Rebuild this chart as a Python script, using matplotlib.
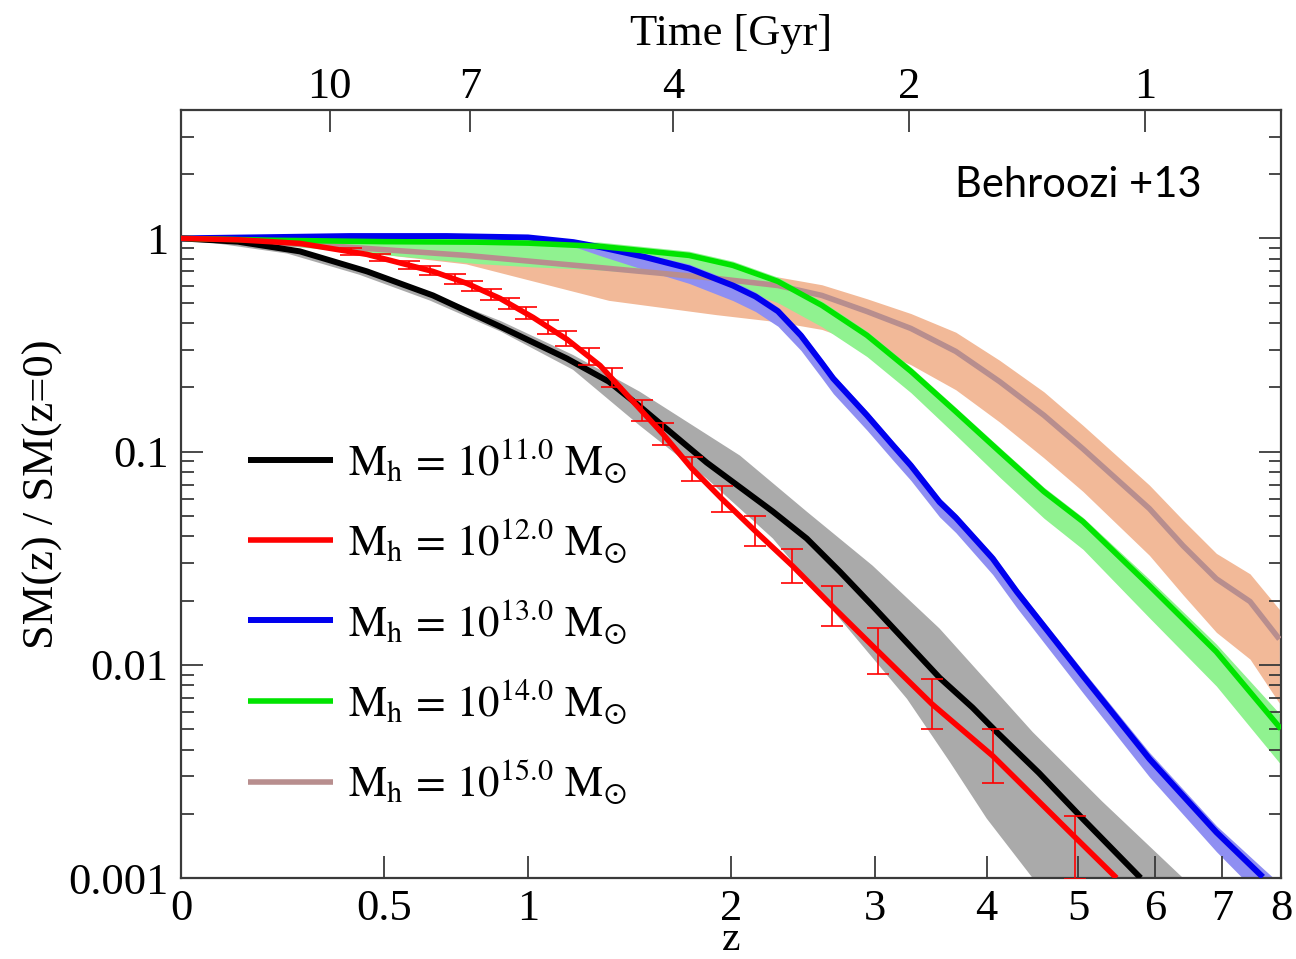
import numpy as np
import matplotlib
matplotlib.use('Agg')
import matplotlib.pyplot as plt
from matplotlib.ticker import FixedLocator, NullLocator, LogLocator, NullFormatter, FixedFormatter

# ---------------- data ----------------
z_ticks = [0, 0.5, 1, 2, 3, 4, 5, 6, 7, 8]
z_tick_labels = ['0', '0.5', '1', '2', '3', '4', '5', '6', '7', '8']
y_ticks = [0.001, 0.01, 0.1, 1]
y_tick_labels = ['0.001', '0.01', '0.1', '1']
time_tick_z = [0.346, 0.781, 1.672, 3.28, 5.86]
time_tick_labels = ['10', '7', '4', '2', '1']

labels = [r'$\mathrm{M_h\,=\,10^{11.0}\ M_{\odot}}$',
          r'$\mathrm{M_h\,=\,10^{12.0}\ M_{\odot}}$',
          r'$\mathrm{M_h\,=\,10^{13.0}\ M_{\odot}}$',
          r'$\mathrm{M_h\,=\,10^{14.0}\ M_{\odot}}$',
          r'$\mathrm{M_h\,=\,10^{15.0}\ M_{\odot}}$']

# Mh = 1e11 (black) + grey band (upper / lower edges)
black_z = [0, 0.12, 0.268, 0.450, 0.654, 0.891, 1.162, 1.35, 1.50, 1.858, 2.262, 2.49, 2.73,
           2.98, 3.264, 3.55, 3.86, 4.10, 4.55, 5.06, 5.80]
black_v = [1, 0.965, 0.869, 0.70, 0.54, 0.386, 0.273, 0.213, 0.163, 0.0888, 0.0523, 0.0391,
           0.0273, 0.0189, 0.01268, 0.0087, 0.0063, 0.00484, 0.00311, 0.00189, 0.001]
gray_up_z = [0, 0.236, 0.427, 0.644, 0.895, 1.188, 1.50, 2.054, 2.49, 2.98, 3.55, 4.48, 5.3, 6.4, 6.8]
gray_up_v = [1, 0.889, 0.716, 0.554, 0.409, 0.284, 0.191, 0.0958, 0.0523, 0.0292, 0.0148,
             0.00484, 0.00228, 0.001, 0.0007]
gray_dn_z = [0, 0.236, 0.427, 0.644, 0.895, 1.188, 1.50, 1.858, 2.262, 2.73, 3.264, 3.645,
             4.0, 4.48, 4.9]
gray_dn_v = [1, 0.849, 0.676, 0.511, 0.365, 0.242, 0.1324, 0.0747, 0.0391, 0.0164, 0.00692,
             0.0035, 0.0019, 0.001, 0.0005]

# Mh = 1e12 (red) with error bars
red_z = [0, 0.12, 0.268, 0.450, 0.654, 0.770, 0.891, 1.020, 1.162, 1.31, 1.466, 1.618, 1.775,
         1.945, 2.146, 2.39, 2.67, 3.02, 3.48, 4.06, 4.96, 5.48]
red_v = [1, 0.985, 0.947, 0.841, 0.700, 0.615, 0.523, 0.426, 0.336, 0.253, 0.172, 0.121,
         0.0832, 0.0601, 0.0426, 0.0292, 0.0189, 0.01164, 0.00656, 0.00374, 0.00156, 0.001]
err_z = [0.404, 0.488, 0.577, 0.644, 0.729, 0.79, 0.857, 0.925, 0.99, 1.08, 1.157, 1.26,
         1.365, 1.51, 1.618, 1.775, 1.945, 2.146, 2.39, 2.67, 3.02, 3.48, 4.06, 4.96]
err_v = [0.867, 0.813, 0.750, 0.706, 0.644, 0.599, 0.547, 0.495, 0.447, 0.385, 0.339, 0.278,
         0.222, 0.156, 0.121, 0.0832, 0.0601, 0.0426, 0.0292, 0.0189, 0.01164, 0.00656,
         0.00374, 0.00156]
err_up_dex = [0.016, 0.018, 0.019, 0.02, 0.022, 0.024, 0.026, 0.028, 0.03, 0.033, 0.036, 0.04,
              0.045, 0.05, 0.052, 0.056, 0.061, 0.07, 0.08, 0.094, 0.108, 0.117, 0.127, 0.10]
err_dn_dex = [0.016, 0.018, 0.019, 0.02, 0.022, 0.024, 0.026, 0.028, 0.03, 0.033, 0.036, 0.04,
              0.045, 0.05, 0.052, 0.056, 0.061, 0.07, 0.08, 0.094, 0.108, 0.117, 0.127, 0.20]

# Mh = 1e13 (blue) + band
blue_z = [0, 0.15, 0.4, 0.7, 1.0, 1.19, 1.31, 1.52, 1.759, 2.011, 2.15, 2.295, 2.45, 2.597,
          2.68, 2.936, 3.146, 3.297, 3.55, 3.70, 4.06, 4.31, 5.06, 5.92, 6.91, 7.68]
blue_v = [1.0, 1.01, 1.025, 1.025, 1.01, 0.96, 0.91, 0.82, 0.723, 0.601, 0.534, 0.455, 0.35,
          0.26, 0.22, 0.148, 0.107, 0.086, 0.058, 0.049, 0.0315, 0.022, 0.00887, 0.00362,
          0.00164, 0.00101]
bband_z = [0, 0.4, 1.0, 1.19, 1.31, 1.52, 1.759, 2.011, 2.15, 2.295, 2.45, 2.597, 2.68, 2.936,
           3.146, 3.297, 3.55, 3.70, 4.06, 4.31, 5.06, 5.92, 6.91, 7.68, 8.0]
bband_lo = [1, 1.013, 0.987, 0.917, 0.830, 0.714, 0.615, 0.511, 0.454, 0.387, 0.298, 0.221,
            0.187, 0.126, 0.0911, 0.0732, 0.0494, 0.0417, 0.0265, 0.0185, 0.00738, 0.00298,
            0.00133, 0.00080, 0.0005]
bband_hi = [1, 1.037, 1.029, 0.982, 0.931, 0.849, 0.757, 0.629, 0.559, 0.476, 0.366, 0.272,
            0.230, 0.155, 0.112, 0.090, 0.0607, 0.0513, 0.033, 0.0230, 0.00939, 0.00388,
            0.00176, 0.00111, 0.00093]

# Mh = 1e14 (green) + band
green_z = [0, 0.2, 0.5, 0.8, 1.0, 1.31, 1.759, 2.011, 2.295, 2.597, 2.936, 3.297, 3.70, 4.13,
           4.605, 5.06, 5.92, 6.91, 8.0]
green_v = [1, 0.98, 0.965, 0.96, 0.95, 0.917, 0.832, 0.747, 0.628, 0.485, 0.351, 0.238, 0.154,
           0.100, 0.0649, 0.0469, 0.0235, 0.0115, 0.0050]
green_lo = [1, 0.936, 0.840, 0.763, 0.737, 0.712, 0.661, 0.593, 0.499, 0.385, 0.279, 0.189,
            0.1196, 0.0759, 0.0487, 0.0348, 0.0166, 0.00795, 0.0034]
green_hi = [1, 0.99, 0.984, 0.982, 0.983, 0.960, 0.871, 0.782, 0.657, 0.508, 0.367, 0.249,
            0.161, 0.1047, 0.068, 0.0491, 0.0252, 0.0125, 0.0058]

# Mh = 1e15 (rosy brown) + salmon band
brown_z = [0, 0.328, 0.767, 1.35, 1.91, 2.295, 2.597, 2.936, 3.297, 3.70, 4.13, 4.605, 5.06,
           5.92, 6.40, 6.91, 7.46, 7.97]
brown_v = [1, 0.927, 0.832, 0.723, 0.649, 0.601, 0.540, 0.454, 0.378, 0.295, 0.213, 0.148,
           0.103, 0.054, 0.0362, 0.0253, 0.0198, 0.0132]
salmon_lo = [1, 0.906, 0.759, 0.512, 0.439, 0.406, 0.374, 0.314, 0.2555, 0.195, 0.1376, 0.0934,
             0.065, 0.0326, 0.0213, 0.0142, 0.01063, 0.00661]
salmon_hi = [1, 0.948, 0.861, 0.757, 0.696, 0.659, 0.606, 0.521, 0.444, 0.363, 0.268, 0.1906,
             0.1327, 0.0696, 0.0477, 0.0333, 0.0267, 0.0182]

# ---------------- styling ----------------
plt.rcParams['font.family'] = ['Liberation Serif', 'DejaVu Serif']
plt.rcParams['mathtext.fontset'] = 'stix'
FS = 32
axis_col = '#3a3a3a'

fig = plt.figure(figsize=(12.96, 9.59), dpi=100)
L, R, T, B = 181, 1281, 110, 878
ax = fig.add_axes([L / 1296, 1 - B / 959, (R - L) / 1296, (B - T) / 959])


def fwd(z):
    return np.log10(1 + np.asarray(z, dtype=float))


def inv(u):
    return 10 ** np.asarray(u, dtype=float) - 1


ax.set_xscale('function', functions=(fwd, inv))
ax.set_yscale('log')
ax.set_xlim(0, 8)
ax.set_ylim(1e-3, 4)

# bands
ax.fill_between(brown_z, salmon_lo, salmon_hi, color='#f2b998', lw=0, zorder=1)
ax.fill_between(green_z, green_lo, green_hi, color='#90f290', lw=0, zorder=1.2)
ax.fill_between(bband_z, bband_lo, bband_hi, color='#8f8ff2', lw=0, zorder=1.3)
ax.fill(list(gray_up_z) + list(gray_dn_z[::-1]), list(gray_up_v) + list(gray_dn_v[::-1]),
        color='#aaaaaa', lw=0, zorder=1.4)

# lines
kw = dict(solid_capstyle='butt', solid_joinstyle='round')
l1, = ax.plot(black_z, black_v, color='black', lw=4.3, zorder=3, **kw)
l3, = ax.plot(blue_z, blue_v, color='#0000ee', lw=4.3, zorder=3, **kw)
l4, = ax.plot(green_z, green_v, color='#00e400', lw=4.0, zorder=3, **kw)
l5, = ax.plot(brown_z, brown_v, color='#b88e8e', lw=4.0, zorder=2.9, **kw)
l2, = ax.plot(red_z, red_v, color='#ff0000', lw=4.0, zorder=3.2, **kw)

ev = np.array(err_v)
yerr = [ev - ev * 10 ** (-np.array(err_dn_dex)), ev * 10 ** np.array(err_up_dex) - ev]
ax.errorbar(err_z, err_v, yerr=yerr, fmt='none', ecolor='#ff0000', elinewidth=1.2,
            capsize=8, capthick=1.2, zorder=3.3)

# axes / ticks
ax.xaxis.set_major_locator(FixedLocator(z_ticks))
ax.xaxis.set_major_formatter(FixedFormatter(z_tick_labels))
ax.xaxis.set_minor_locator(NullLocator())
ax.yaxis.set_major_locator(FixedLocator(y_ticks))
ax.yaxis.set_major_formatter(FixedFormatter(y_tick_labels))
ax.yaxis.set_minor_locator(LogLocator(base=10, subs=np.arange(2, 10)))
ax.yaxis.set_minor_formatter(NullFormatter())
ax.tick_params(which='both', direction='in', top=False, right=True, color=axis_col,
               labelsize=FS)
ax.tick_params(which='major', length=16, width=1.3)
ax.tick_params(which='minor', length=9, width=1.3)
ax.tick_params(axis='x', pad=8)
ax.tick_params(axis='y', pad=9)
for s in ax.spines.values():
    s.set_color(axis_col)
    s.set_linewidth(1.6)

ax.set_xlabel('z', fontsize=30, labelpad=-6)
ax.set_ylabel('SM(z) / SM(z=0)', fontsize=FS, labelpad=4)

axt = ax.twiny()
axt.set_xscale('function', functions=(fwd, inv))
axt.set_xlim(0, 8)
axt.xaxis.set_major_locator(FixedLocator(time_tick_z))
axt.xaxis.set_major_formatter(FixedFormatter(time_tick_labels))
axt.xaxis.set_minor_locator(NullLocator())
axt.tick_params(axis='x', which='major', direction='in', length=16, width=1.3, color=axis_col,
                labelsize=FS, pad=2)
axt.set_xlabel('Time [Gyr]', fontsize=FS, labelpad=16)
for s in axt.spines.values():
    s.set_visible(False)

LFS = 31
leg = ax.legend([l1, l2, l3, l4, l5], labels, loc='upper left',
                bbox_to_anchor=(248 / 1296, 1 - 436 / 959), bbox_transform=fig.transFigure,
                frameon=False, prop={'size': LFS}, handlelength=85 / (LFS * 100 / 72),
                handletextpad=0.35, labelspacing=0.73, borderpad=0, borderaxespad=0)

fig.text(955 / 1296, 1 - 197 / 959, 'Behroozi +13', fontsize=30, family='Lato',
         ha='left', va='baseline', color='black')

fig.savefig('out.png', dpi=100)
